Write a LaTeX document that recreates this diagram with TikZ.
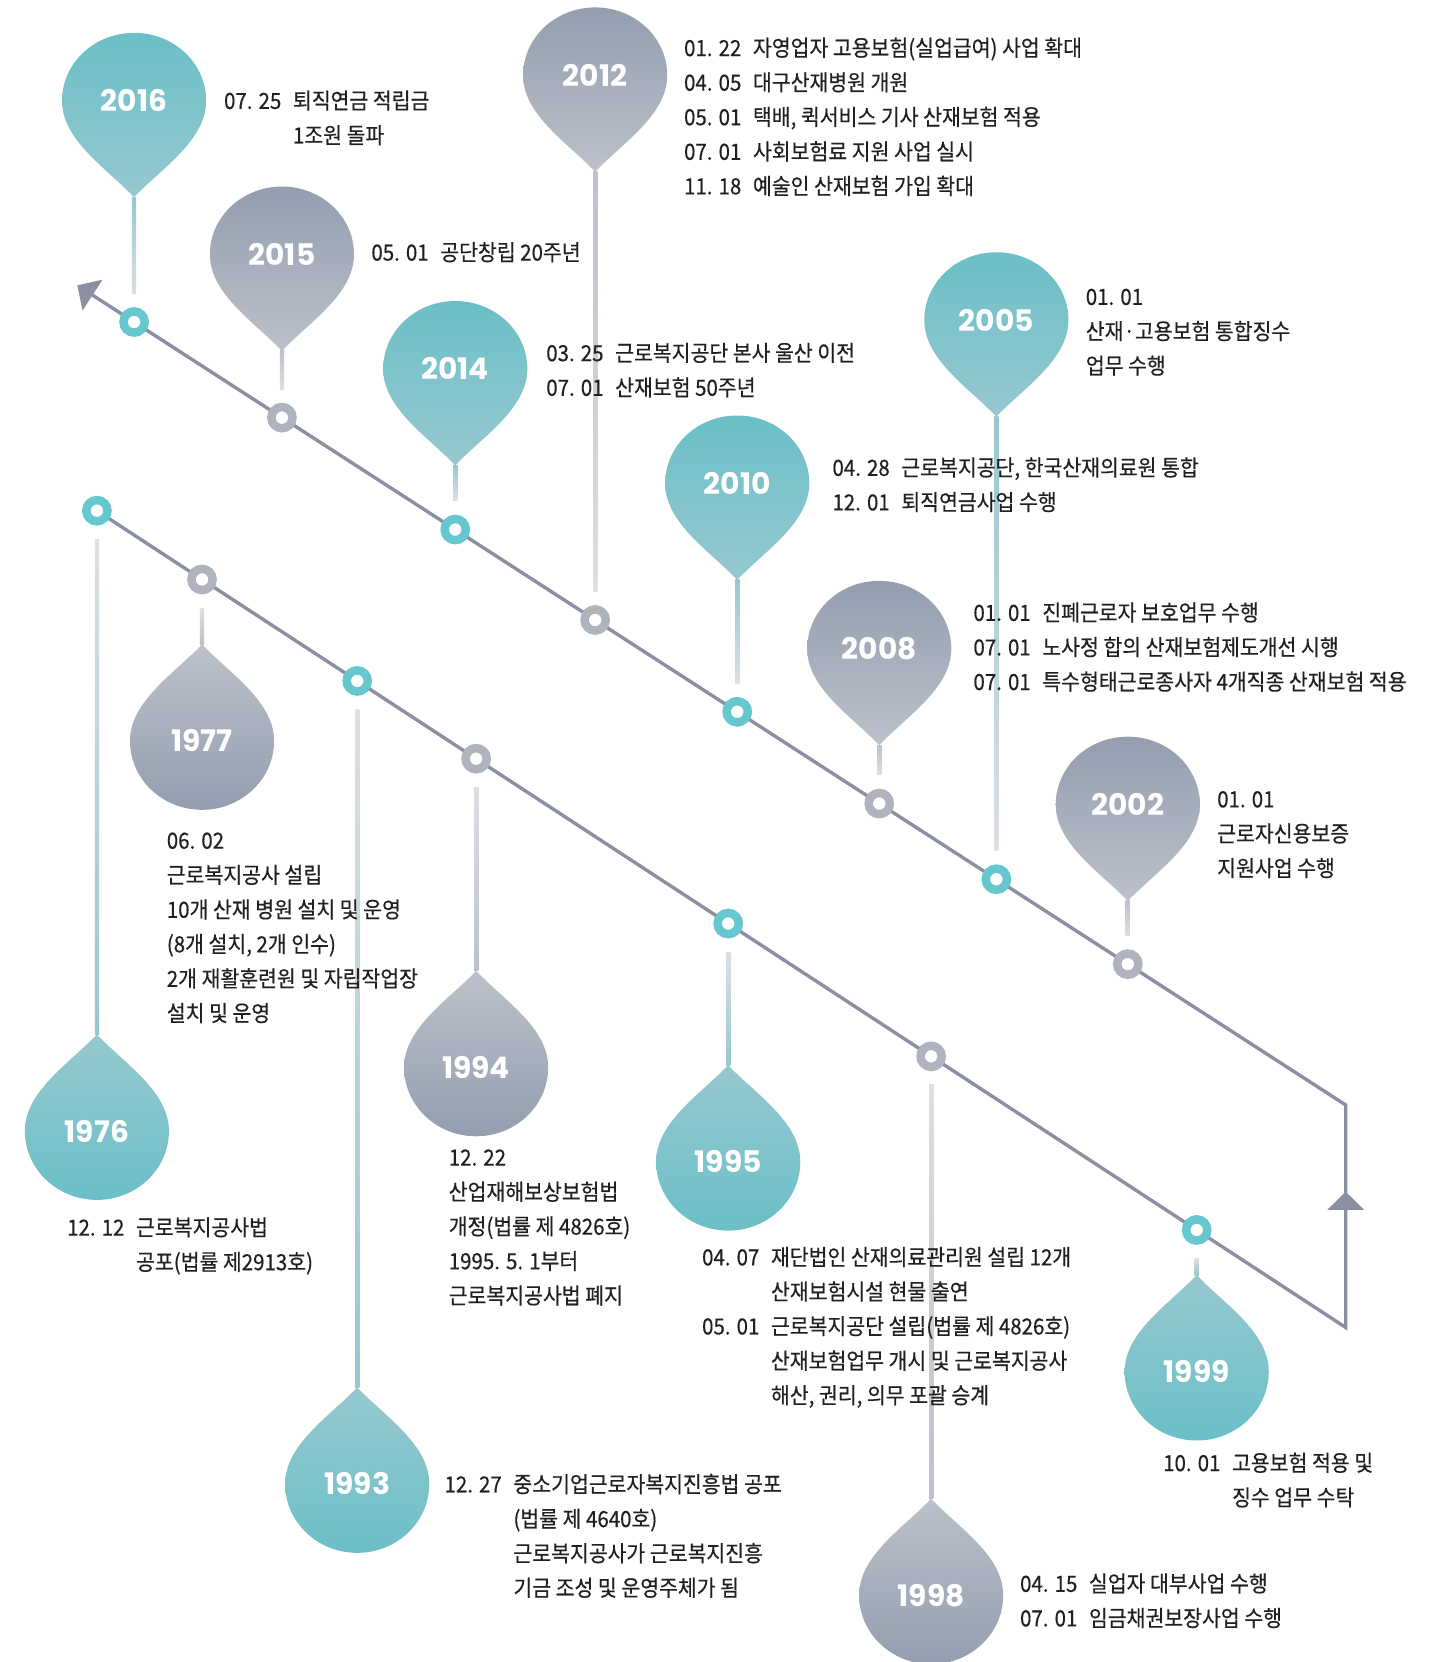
\documentclass[tikz,border=0pt]{standalone}
\usepackage{fontspec}
\newfontfamily\krfont{Noto Sans CJK KR}[FakeStretch=0.92, FakeBold=0.4]
\newfontfamily\yearfont{Poppins}
\usetikzlibrary{arrows.meta, decorations.markings}
\definecolor{mintbody}{HTML}{6BBFC8}
\definecolor{minttip}{HTML}{96C8CE}
\definecolor{mintring}{HTML}{66C7CF}
\definecolor{slatebody}{HTML}{939EAF}
\definecolor{slatetip}{HTML}{BCC1CA}
\definecolor{slatering}{HTML}{AEB3BE}
\definecolor{railgray}{HTML}{8A909F}
\definecolor{stemend}{HTML}{DDDFE3}
\definecolor{ink}{HTML}{231F20}

\newcommand{\evdate}[1]{\makebox[32.5pt][l]{#1}}
\newcommand{\evindent}{\hspace*{32.5pt}}
\newcommand{\dropdown}[3]{%
  \shade[top color=#3body, bottom color=#3tip]
    (#1,#2+91) .. controls +(27,-28) and +(0,37) .. (#1+68,#2)
    arc[start angle=0, end angle=-180, x radius=68, y radius=64]
    .. controls +(0,37) and +(-27,-28) .. (#1,#2+91) -- cycle;}
\newcommand{\dropup}[3]{%
  \shade[top color=#3tip, bottom color=#3body]
    (#1,#2-91) .. controls +(27,28) and +(0,-37) .. (#1+68,#2)
    arc[start angle=0, end angle=180, x radius=68, y radius=65]
    .. controls +(0,-37) and +(-27,28) .. (#1,#2-91) -- cycle;}

\begin{document}
\begin{tikzpicture}[
      x=0.5pt, y=-0.5pt,
      rail/.style={draw=railgray, line width=1.6pt, line join=miter},
      ring/.style={circle, draw=#1, line width=4pt, fill=white,
                   minimum size=10pt, inner sep=0pt},
      yr/.style={font=\yearfont\bfseries\fontsize{14}{16}\selectfont, text=white},
      ev/.style={anchor=north west, align=left, inner sep=0pt, text=ink,
                 font=\krfont\fontsize{10.5}{16.3}\selectfont},
    ]
    \useasboundingbox (0,0) rectangle (1351,1568);
    \clip (0,0) rectangle (1351,1568);

    % points on the two rails
    \coordinate (c2016) at (126.5,303.8);
    \coordinate (c2015) at (266,394);
    \coordinate (c2014) at (429.5,499.6);
    \coordinate (c2012) at (561.5,584.9);
    \coordinate (c2010) at (695.5,671.5);
    \coordinate (c2008) at (829.5,758.1);
    \coordinate (c2005) at (940,829.5);
    \coordinate (c2002) at (1064,909.6);
    \coordinate (cU) at (1269.6,1042.5);
    \coordinate (cL) at (1269.6,1252.4);
    \coordinate (c1999) at (1129,1160.4);
    \coordinate (c1998) at (878.5,996.6);
    \coordinate (c1995) at (687,871.3);
    \coordinate (c1994) at (449.2,715.8);
    \coordinate (c1993) at (337,642.4);
    \coordinate (c1977) at (190.6,546.7);
    \coordinate (c1976) at (91.4,481.8);
    \coordinate (arrowend) at (73,269.2);

    % drop tips
    \coordinate (t2016) at (126.5,186);
    \coordinate (t2015) at (266,331);
    \coordinate (t2014) at (429.5,439);
    \coordinate (t2012) at (561.5,162);
    \coordinate (t2010) at (695.5,547);
    \coordinate (t2008) at (829.5,703);
    \coordinate (t2005) at (940,393);
    \coordinate (t2002) at (1064,850);
    \coordinate (t1999) at (1129,1203);
    \coordinate (t1998) at (878.5,1414);
    \coordinate (t1995) at (687,1005);
    \coordinate (t1994) at (449.2,916);
    \coordinate (t1993) at (337,1309);
    \coordinate (t1977) at (190.6,608);
    \coordinate (t1976) at (91.4,976);

    % stems
    \shade[top color=minttip, bottom color=stemend] ([xshift=-1pt]t2016) rectangle ([xshift=1pt,yshift=13.5pt]c2016);
    \shade[top color=slatetip, bottom color=stemend] ([xshift=-1pt]t2015) rectangle ([xshift=1pt,yshift=13.5pt]c2015);
    \shade[top color=minttip, bottom color=stemend] ([xshift=-1pt]t2014) rectangle ([xshift=1pt,yshift=13.5pt]c2014);
    \shade[top color=slatetip, bottom color=stemend] ([xshift=-1pt]t2012) rectangle ([xshift=1pt,yshift=13.5pt]c2012);
    \shade[top color=minttip, bottom color=stemend] ([xshift=-1pt]t2010) rectangle ([xshift=1pt,yshift=13.5pt]c2010);
    \shade[top color=slatetip, bottom color=stemend] ([xshift=-1pt]t2008) rectangle ([xshift=1pt,yshift=13.5pt]c2008);
    \shade[top color=minttip, bottom color=stemend] ([xshift=-1pt]t2005) rectangle ([xshift=1pt,yshift=13.5pt]c2005);
    \shade[top color=slatetip, bottom color=stemend] ([xshift=-1pt]t2002) rectangle ([xshift=1pt,yshift=13.5pt]c2002);
    \shade[top color=stemend, bottom color=minttip] ([xshift=-1pt,yshift=-13.5pt]c1999) rectangle ([xshift=1pt]t1999);
    \shade[top color=stemend, bottom color=slatetip] ([xshift=-1pt,yshift=-13.5pt]c1998) rectangle ([xshift=1pt]t1998);
    \shade[top color=stemend, bottom color=minttip] ([xshift=-1pt,yshift=-13.5pt]c1995) rectangle ([xshift=1pt]t1995);
    \shade[top color=stemend, bottom color=slatetip] ([xshift=-1pt,yshift=-13.5pt]c1994) rectangle ([xshift=1pt]t1994);
    \shade[top color=stemend, bottom color=minttip] ([xshift=-1pt,yshift=-13.5pt]c1993) rectangle ([xshift=1pt]t1993);
    \shade[top color=stemend, bottom color=slatetip] ([xshift=-1pt,yshift=-13.5pt]c1977) rectangle ([xshift=1pt]t1977);
    \shade[top color=stemend, bottom color=minttip] ([xshift=-1pt,yshift=-13.5pt]c1976) rectangle ([xshift=1pt]t1976);

    % the rail
    \draw[rail, -{Triangle[length=8.5pt,width=17pt]}]
      (c1976) -- (c1977) -- (c1993) -- (c1994) -- (c1995) -- (c1998) -- (c1999) -- (cL)
      -- (cU) -- (c2002) -- (c2005) -- (c2008) -- (c2010) -- (c2012) -- (c2014) -- (c2015)
      -- (c2016) -- (arrowend);
    \draw[rail, postaction={decorate}, decoration={markings,
      mark=at position 0.61 with {\arrow[railgray]{Triangle[length=8.5pt,width=17pt]}}}]
      (cL) -- (cU);

    \node[ring=mintring] (d2016) at (c2016) {};
    \node[ring=slatering] (d2015) at (c2015) {};
    \node[ring=mintring] (d2014) at (c2014) {};
    \node[ring=slatering] (d2012) at (c2012) {};
    \node[ring=mintring] (d2010) at (c2010) {};
    \node[ring=slatering] (d2008) at (c2008) {};
    \node[ring=mintring] (d2005) at (c2005) {};
    \node[ring=slatering] (d2002) at (c2002) {};
    \node[ring=mintring] (d1999) at (c1999) {};
    \node[ring=slatering] (d1998) at (c1998) {};
    \node[ring=mintring] (d1995) at (c1995) {};
    \node[ring=slatering] (d1994) at (c1994) {};
    \node[ring=mintring] (d1993) at (c1993) {};
    \node[ring=slatering] (d1977) at (c1977) {};
    \node[ring=mintring] (d1976) at (c1976) {};

    % drops
    \dropdown{126.5}{95}{mint}
    \dropdown{266}{240}{slate}
    \dropdown{429.5}{348}{mint}
    \dropdown{561.5}{71}{slate}
    \dropdown{695.5}{456}{mint}
    \dropdown{829.5}{612}{slate}
    \dropdown{940}{302}{mint}
    \dropdown{1064}{759}{slate}
    \dropup{1129}{1294}{mint}
    \dropup{878.5}{1505}{slate}
    \dropup{687}{1096}{mint}
    \dropup{449.2}{1007}{slate}
    \dropup{337}{1400}{mint}
    \dropup{190.6}{699}{slate}
    \dropup{91.4}{1067}{mint}

    \node[yr] (y2016) at (126.5,95) {2016};
    \node[yr] (y2015) at (266,240) {2015};
    \node[yr] (y2014) at (429.5,348) {2014};
    \node[yr] (y2012) at (561.5,71) {2012};
    \node[yr] (y2010) at (695.5,456) {2010};
    \node[yr] (y2008) at (829.5,612) {2008};
    \node[yr] (y2005) at (940,302) {2005};
    \node[yr] (y2002) at (1064,759) {2002};
    \node[yr] (y1999) at (1129,1294) {1999};
    \node[yr] (y1998) at (878.5,1505) {1998};
    \node[yr] (y1995) at (687,1096) {1995};
    \node[yr] (y1994) at (449.2,1007) {1994};
    \node[yr] (y1993) at (337,1400) {1993};
    \node[yr] (y1977) at (190.6,699) {1977};
    \node[yr] (y1976) at (91.4,1067) {1976};

    % events
    \node[ev] (e2016) at (211,85) {\evdate{07. 25}퇴직연금 적립금\\\evindent 1조원 돌파};
    \node[ev] (e2015) at (350,228) {\evdate{05. 01}공단창립 20주년};
    \node[ev] (e2014) at (515,323) {\evdate{03. 25}근로복지공단 본사 울산 이전\\\evdate{07. 01}산재보험 50주년};
    \node[ev] (e2012) at (645,35)
      {\evdate{01. 22}자영업자 고용보험(실업급여) 사업 확대\\\evdate{04. 05}대구산재병원 개원\\\evdate{05. 01}택배, 퀵서비스 기사 산재보험 적용\\\evdate{07. 01}사회보험료 지원 사업 실시\\\evdate{11. 18}예술인 산재보험 가입 확대};
    \node[ev] (e2010) at (785,431) {\evdate{04. 28}근로복지공단, 한국산재의료원 통합\\\evdate{12. 01}퇴직연금사업 수행};
    \node[ev] (e2005) at (1024,272) {01. 01\\산재·고용보험 통합징수\\업무 수행};
    \node[ev] (e2008) at (918,568)
      {\evdate{01. 01}진폐근로자 보호업무 수행\\\evdate{07. 01}노사정 합의 산재보험제도개선 시행\\\evdate{07. 01}특수형태근로종사자 4개직종 산재보험 적용};
    \node[ev] (e2002) at (1148,746) {01. 01\\근로자신용보증\\지원사업 수행};
    \node[ev] (e1977) at (157,785)
      {06. 02\\근로복지공사 설립\\10개 산재 병원 설치 및 운영\\(8개 설치, 2개 인수)\\2개 재활훈련원 및 자립작업장\\설치 및 운영};
    \node[ev] (e1976) at (63,1148) {\evdate{12. 12}근로복지공사법\\\evindent 공포(법률 제2913호)};
    \node[ev] (e1994) at (423,1084)
      {12. 22\\산업재해보상보험법\\개정(법률 제 4826호)\\1995. 5. 1부터\\근로복지공사법 폐지};
    \node[ev] (e1995) at (662,1176)
      {\evdate{04. 07}재단법인 산재의료관리원 설립 12개\\\evindent 산재보험시설 현물 출연\\\evdate{05. 01}근로복지공단 설립(법률 제 4826호)\\\evindent 산재보험업무 개시 및 근로복지공사\\\evindent 해산, 권리, 의무 포괄 승계};
    \node[ev] (e1993) at (419,1390)
      {\evdate{12. 27}중소기업근로자복지진흥법 공포\\\evindent (법률 제 4640호)\\\evindent 근로복지공사가 근로복지진흥\\\evindent 기금 조성 및 운영주체가 됨};
    \node[ev] (e1999) at (1097,1370) {\evdate{10. 01}고용보험 적용 및\\\evindent 징수 업무 수탁};
    \node[ev] (e1998) at (962,1484) {\evdate{04. 15}실업자 대부사업 수행\\\evdate{07. 01}임금채권보장사업 수행};
  \end{tikzpicture}
\end{document}
